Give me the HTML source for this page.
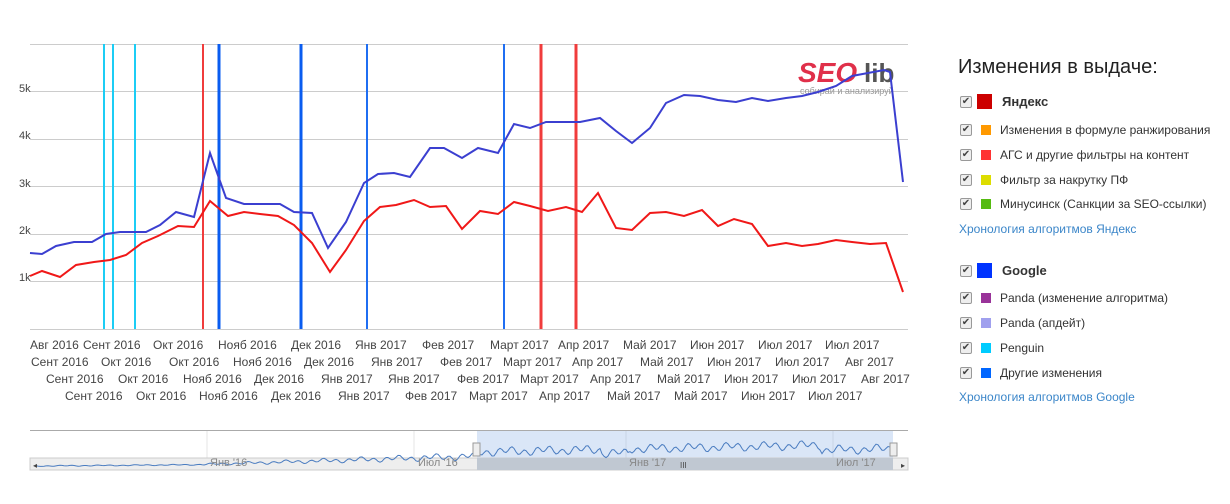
<!DOCTYPE html>
<html><head><meta charset="utf-8"><style>
body{margin:0;width:1230px;height:504px;background:#fff;font-family:"Liberation Sans",sans-serif;position:relative;overflow:hidden}
.t{position:absolute;font-size:12px;color:#444;white-space:nowrap}
.lg{position:absolute;left:958px;font-size:12px;color:#333;white-space:nowrap}
.cb{position:absolute;left:960px;width:10px;height:10px;border:1px solid #999;border-radius:2px;background:#eee;font-size:10px;line-height:10px;text-align:center;color:#444}
.sq{position:absolute;left:981px;width:10px;height:10px}
.bq{position:absolute;left:977px;width:15px;height:15px}
.tx{position:absolute;left:1000px;font-size:12px;color:#333;white-space:nowrap}
.lnk{position:absolute;left:959px;font-size:12px;color:#3b86c9}
</style></head><body>
<svg width="1230" height="504" style="position:absolute;left:0;top:0">
<g stroke="#ccc" stroke-width="1">
<line x1="30" y1="44.5" x2="908" y2="44.5"/><line x1="30" y1="91.5" x2="908" y2="91.5"/><line x1="30" y1="139.5" x2="908" y2="139.5"/><line x1="30" y1="186.5" x2="908" y2="186.5"/><line x1="30" y1="234.5" x2="908" y2="234.5"/><line x1="30" y1="281.5" x2="908" y2="281.5"/><line x1="30" y1="329.5" x2="908" y2="329.5"/>
</g>
<g font-size="11" fill="#444" font-family="Liberation Sans">
<text x="19" y="92">5k</text><text x="19" y="139">4k</text><text x="19" y="187">3k</text><text x="19" y="234">2k</text><text x="19" y="281">1k</text>
</g>
<text x="798" y="82" font-size="28" font-weight="bold" fill="#e0304a" font-style="italic" font-family="Liberation Sans">SEO</text>
<text x="864" y="82" font-size="26" font-weight="bold" fill="#555" font-family="Liberation Sans">lib</text>
<text x="800" y="94" font-size="9" fill="#999" font-family="Liberation Sans">собирай и анализируй</text>
<g>
<line x1="104" y1="44" x2="104" y2="329" stroke="#1ccdf5" stroke-width="2"/>
<line x1="113" y1="44" x2="113" y2="329" stroke="#1ccdf5" stroke-width="2"/>
<line x1="135" y1="44" x2="135" y2="329" stroke="#1ccdf5" stroke-width="2"/>
<line x1="203" y1="44" x2="203" y2="329" stroke="#f03c3c" stroke-width="2"/>
<line x1="219" y1="44" x2="219" y2="329" stroke="#0a5cf0" stroke-width="3"/>
<line x1="301" y1="44" x2="301" y2="329" stroke="#0a5cf0" stroke-width="3"/>
<line x1="367" y1="44" x2="367" y2="329" stroke="#1f6ef2" stroke-width="2"/>
<line x1="504" y1="44" x2="504" y2="329" stroke="#1f6ef2" stroke-width="2"/>
<line x1="541" y1="44" x2="541" y2="329" stroke="#f03c3c" stroke-width="3"/>
<line x1="576" y1="44" x2="576" y2="329" stroke="#f03c3c" stroke-width="3"/>
</g>
<polyline fill="none" stroke="#3b3fd0" stroke-width="2" points="30,253 42,254 56,246 74,242 92,242 106,234 120,232 136,232 146,232 160,225 176,212 194,217 210,153 226,198 244,204 262,204 280,204 294,212 312,213 328,248 346,222 364,183 378,174 394,173 410,177 430,148 444,148 462,158 478,148 498,153 514,124 530,128 546,122 564,122 580,122 600,118 616,131 632,143 650,128 666,103 684,95 700,96 718,100 736,102 752,98 768,101 786,98 802,96 818,92 836,86 852,76 868,73 884,70 890,72 903,182"/>
<polyline fill="none" stroke="#f01818" stroke-width="2" points="30,276 42,271 60,277 76,265 94,262 110,260 126,255 142,243 158,236 178,226 194,227 210,201 228,216 244,212 260,214 278,216 294,225 312,243 330,272 346,250 364,221 380,207 396,205 414,200 430,207 446,206 462,229 480,211 498,214 514,202 530,206 548,211 566,207 582,212 598,193 616,228 632,230 650,213 666,212 684,216 702,210 718,226 734,219 752,224 768,246 786,243 802,246 818,244 836,240 852,242 870,244 886,243 903,292"/>
<!-- navigator -->
<rect x="477" y="431" width="416" height="27" fill="#dae6f7"/>
<line x1="30" y1="430.5" x2="908" y2="430.5" stroke="#aaa"/>
<line x1="207" y1="431" x2="207" y2="458" stroke="#e4e4e4"/><line x1="414" y1="431" x2="414" y2="458" stroke="#e4e4e4"/><line x1="626" y1="431" x2="626" y2="458" stroke="#c8d4e4"/><line x1="833" y1="431" x2="833" y2="458" stroke="#c8d4e4"/>
<rect x="30" y="458" width="878" height="12" fill="#eee" stroke="#ccc"/>
<rect x="477" y="458" width="416" height="12" fill="#c0c8d2"/>
<path id="nav" fill="none" stroke="#4a7cc0" stroke-width="1"/>
<g font-size="11" fill="#888" font-family="Liberation Sans"><text x="210" y="466">Янв '16</text><text x="418" y="466">Июл '16</text><text x="629" y="466">Янв '17</text><text x="836" y="466">Июл '17</text></g>
<rect x="473" y="443" width="7" height="13" fill="#eee" stroke="#999"/><rect x="890" y="443" width="7" height="13" fill="#eee" stroke="#999"/>
<text x="680" y="468" font-size="8" fill="#444">III</text>
<text x="33" y="468" font-size="8" fill="#444">◂</text><text x="901" y="468" font-size="8" fill="#444">▸</text>
</svg>
<script>
var d="";for(var x=36;x<=890;x+=2){var base,a;
if(x<200){base=466-(x-36)*0.008;a=0.6;}
else if(x<477){base=464.5-(x-200)*0.03;a=1+(x-200)*0.012;}
else{base=452-(x-477)*0.02;a=5;if(x>600&&x<630)base+=4;if(x>820)base+=5;}
var y=base+Math.sin(x*0.5)*a*0.6+Math.sin(x*0.17)*a*0.4;
d+=(x==36?"M":" L")+x+","+y.toFixed(1);}
document.getElementById('nav').setAttribute('d',d);
</script>
<div class="t" style="left:30px;top:338px">Авг 2016</div><div class="t" style="left:83px;top:338px">Сент 2016</div><div class="t" style="left:153px;top:338px">Окт 2016</div><div class="t" style="left:218px;top:338px">Нояб 2016</div><div class="t" style="left:291px;top:338px">Дек 2016</div><div class="t" style="left:355px;top:338px">Янв 2017</div><div class="t" style="left:422px;top:338px">Фев 2017</div><div class="t" style="left:490px;top:338px">Март 2017</div><div class="t" style="left:558px;top:338px">Апр 2017</div><div class="t" style="left:623px;top:338px">Май 2017</div><div class="t" style="left:690px;top:338px">Июн 2017</div><div class="t" style="left:758px;top:338px">Июл 2017</div><div class="t" style="left:825px;top:338px">Июл 2017</div>
<div class="t" style="left:31px;top:355px">Сент 2016</div><div class="t" style="left:101px;top:355px">Окт 2016</div><div class="t" style="left:169px;top:355px">Окт 2016</div><div class="t" style="left:233px;top:355px">Нояб 2016</div><div class="t" style="left:304px;top:355px">Дек 2016</div><div class="t" style="left:371px;top:355px">Янв 2017</div><div class="t" style="left:440px;top:355px">Фев 2017</div><div class="t" style="left:503px;top:355px">Март 2017</div><div class="t" style="left:572px;top:355px">Апр 2017</div><div class="t" style="left:640px;top:355px">Май 2017</div><div class="t" style="left:707px;top:355px">Июн 2017</div><div class="t" style="left:775px;top:355px">Июл 2017</div><div class="t" style="left:845px;top:355px">Авг 2017</div>
<div class="t" style="left:46px;top:372px">Сент 2016</div><div class="t" style="left:118px;top:372px">Окт 2016</div><div class="t" style="left:183px;top:372px">Нояб 2016</div><div class="t" style="left:254px;top:372px">Дек 2016</div><div class="t" style="left:321px;top:372px">Янв 2017</div><div class="t" style="left:388px;top:372px">Янв 2017</div><div class="t" style="left:457px;top:372px">Фев 2017</div><div class="t" style="left:520px;top:372px">Март 2017</div><div class="t" style="left:590px;top:372px">Апр 2017</div><div class="t" style="left:657px;top:372px">Май 2017</div><div class="t" style="left:724px;top:372px">Июн 2017</div><div class="t" style="left:792px;top:372px">Июл 2017</div><div class="t" style="left:861px;top:372px">Авг 2017</div>
<div class="t" style="left:65px;top:389px">Сент 2016</div><div class="t" style="left:136px;top:389px">Окт 2016</div><div class="t" style="left:199px;top:389px">Нояб 2016</div><div class="t" style="left:271px;top:389px">Дек 2016</div><div class="t" style="left:338px;top:389px">Янв 2017</div><div class="t" style="left:405px;top:389px">Фев 2017</div><div class="t" style="left:469px;top:389px">Март 2017</div><div class="t" style="left:539px;top:389px">Апр 2017</div><div class="t" style="left:607px;top:389px">Май 2017</div><div class="t" style="left:674px;top:389px">Май 2017</div><div class="t" style="left:741px;top:389px">Июн 2017</div><div class="t" style="left:808px;top:389px">Июл 2017</div>

<div class="lg" style="top:56px;font-size:20px;color:#222">Изменения в выдаче:</div>
<div class="cb" style="top:96px">✔</div><div class="bq" style="top:94px;background:#cc0000"></div><div class="tx" style="top:94px;font-weight:bold;font-size:13px;left:1002px">Яндекс</div>
<div class="cb" style="top:124px">✔</div><div class="sq" style="top:125px;background:#ff9900"></div><div class="tx" style="top:123px">Изменения в формуле ранжирования</div>
<div class="cb" style="top:149px">✔</div><div class="sq" style="top:150px;background:#ff3333"></div><div class="tx" style="top:148px">АГС и другие фильтры на контент</div>
<div class="cb" style="top:174px">✔</div><div class="sq" style="top:175px;background:#dddd00"></div><div class="tx" style="top:173px">Фильтр за накрутку ПФ</div>
<div class="cb" style="top:198px">✔</div><div class="sq" style="top:199px;background:#55bb11"></div><div class="tx" style="top:197px">Минусинск (Санкции за SEO-ссылки)</div>
<div class="lnk" style="top:222px">Хронология алгоритмов Яндекс</div>
<div class="cb" style="top:265px">✔</div><div class="bq" style="top:263px;background:#0033ff"></div><div class="tx" style="top:263px;font-weight:bold;font-size:13px;left:1002px">Google</div>
<div class="cb" style="top:292px">✔</div><div class="sq" style="top:293px;background:#993399"></div><div class="tx" style="top:291px">Panda (изменение алгоритма)</div>
<div class="cb" style="top:317px">✔</div><div class="sq" style="top:318px;background:#a0a0ee"></div><div class="tx" style="top:316px">Panda (апдейт)</div>
<div class="cb" style="top:342px">✔</div><div class="sq" style="top:343px;background:#00ccff"></div><div class="tx" style="top:341px">Penguin</div>
<div class="cb" style="top:367px">✔</div><div class="sq" style="top:368px;background:#0066ff"></div><div class="tx" style="top:366px">Другие изменения</div>
<div class="lnk" style="top:390px">Хронология алгоритмов Google</div>
</body></html>
